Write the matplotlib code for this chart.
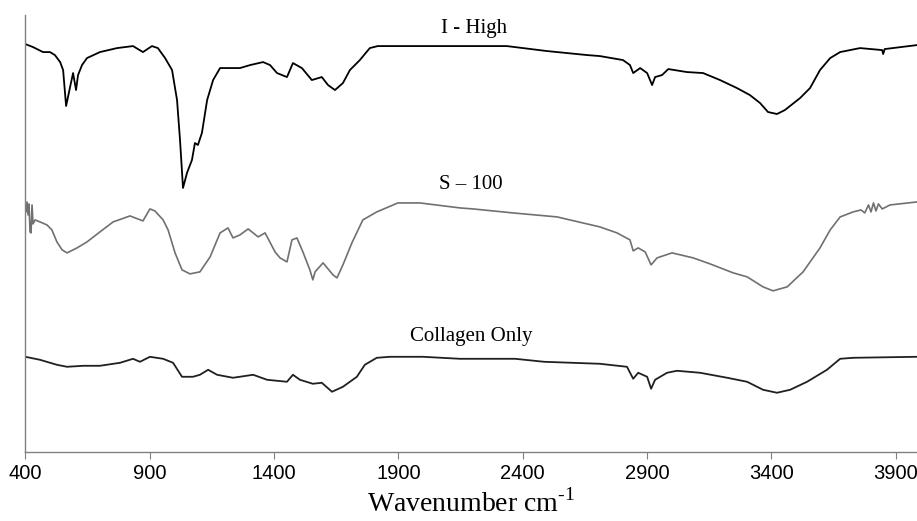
import matplotlib.pyplot as plt

# FTIR spectra, offset transmittance (arbitrary units)
high_wn = [400, 431, 471, 499, 519, 540, 552, 564, 580, 592, 604, 612, 628, 648, 700,
           769, 833, 873, 909, 933, 962, 990, 1010, 1022, 1034, 1050, 1070, 1082, 1094,
           1110, 1131, 1155, 1183, 1223, 1263, 1304, 1356, 1384, 1412, 1452, 1476, 1512,
           1552, 1592, 1617, 1645, 1677, 1705, 1745, 1785, 1817, 2067, 2336, 2498, 2659,
           2710, 2803, 2831, 2844, 2872, 2900, 2920, 2932, 2960, 2985, 3060, 3125, 3193,
           3261, 3313, 3354, 3386, 3422, 3454, 3515, 3555, 3595, 3636, 3676, 3756, 3845,
           3849, 3855, 3985]
high_t = [408, 405, 400, 400, 397, 390, 382, 346, 365, 379, 362, 377, 387, 394, 400,
          404, 406, 400, 406, 404, 394, 382, 352, 312, 264, 279, 292, 309, 307,
          319, 352, 372, 384, 384, 384, 387, 390, 387, 379, 375, 389, 384,
          372, 375, 367, 362, 369, 382, 392, 404, 406, 406, 406, 401, 397,
          396, 392, 387, 379, 384, 379, 367, 375, 377, 383, 380, 379, 372,
          364, 357, 349, 340, 338, 342, 354, 364, 382, 394, 400, 404, 402,
          398, 403, 407]

s100_wn = [400, 403, 407, 411, 415, 419, 423, 427, 431, 439, 459, 487, 507, 527, 548,
           568, 608, 648, 700, 753, 821, 873, 901, 921, 954, 974, 1002, 1030, 1062, 1102,
           1143, 1183, 1215, 1235, 1263, 1296, 1336, 1364, 1404, 1424, 1452, 1472, 1492,
           1516, 1544, 1556, 1565, 1597, 1637, 1653, 1677, 1713, 1757, 1813, 1898, 1986,
           2148, 2200, 2361, 2538, 2710, 2779, 2831, 2844, 2864, 2892, 2916, 2940, 3000,
           3085, 3153, 3246, 3302, 3366, 3406, 3463, 3527, 3595, 3636, 3676, 3728, 3760,
           3775, 3790, 3800, 3810, 3820, 3830, 3845, 3877, 3985]
s100_t = [240, 240, 250, 237, 248, 220, 219, 247, 228, 232, 230, 227, 222, 210, 202,
          199, 204, 210, 220, 230, 236, 231, 243, 241, 232, 222, 199, 182, 178, 180,
          195, 219, 224, 214, 217, 223, 215, 219, 200, 194, 190, 212, 214,
          200, 182, 172, 180, 189, 177, 174, 187, 209, 232, 240, 249, 249,
          244, 243, 239, 235, 225, 219, 212, 201, 204, 200, 187, 194, 199,
          194, 188, 179, 175, 165, 161, 165, 180, 204, 222, 235, 240, 242,
          239, 247, 240, 249, 241, 248, 243, 247, 250]

coll_wn = [400, 459, 527, 568, 633, 700, 781, 833, 861, 901, 954, 994, 1030, 1074,
           1102, 1135, 1171, 1235, 1316, 1372, 1452, 1476, 1504, 1556, 1592, 1633,
           1677, 1733, 1765, 1813, 1866, 1998, 2148, 2369, 2486, 2710, 2819, 2844, 2864,
           2900, 2916, 2932, 2980, 3020, 3113, 3222, 3302, 3366, 3422, 3475, 3543, 3623,
           3676, 3728, 3985]
coll_t = [95, 92, 87, 85, 86, 86, 89, 93, 90, 95, 93, 89, 75, 75,
          77, 82, 77, 74, 77, 72, 70, 77, 72, 68, 69, 60,
          65, 75, 87, 94, 95, 95, 93, 93, 90, 88, 85, 73, 79,
          75, 63, 72, 79, 81, 79, 74, 70, 62, 59, 62, 70, 82,
          93, 94, 95]

labels = ["I - High", "S \u2013 100", "Collagen Only"]
label_x = [2204, 2192, 2192]
label_y = [424, 267, 115]

plt.rcParams['mathtext.fontset'] = 'custom'
plt.rcParams['mathtext.rm'] = 'Liberation Serif'

fig = plt.figure(figsize=(9.17, 5.21), dpi=100)
ax = fig.add_axes([0.0276, 0.133, 0.9724, 0.838])

ax.plot(high_wn, high_t, color="black", lw=1.3)
ax.plot(s100_wn, s100_t, color="#707070", lw=1.2)
ax.plot(coll_wn, coll_t, color="#202020", lw=1.3)

for txt, x, y in zip(labels, label_x, label_y):
    ax.text(x, y, txt, ha="center", va="center", fontsize=15, family="Liberation Serif")

ax.set_xlim(400, 3985)
ax.set_ylim(0, 437)
ax.set_xticks(range(400, 4000, 500))
ax.set_yticks([])
ax.tick_params(axis="x", direction="out", length=5, color="#808080", labelsize=14.5, pad=4)
for lbl in ax.get_xticklabels():
    lbl.set_family("Liberation Sans")
for side in ["top", "right"]:
    ax.spines[side].set_visible(False)
for side in ["left", "bottom"]:
    ax.spines[side].set_color("#808080")
    ax.spines[side].set_linewidth(1.0)

ax.set_xlabel("Wavenumber cm$^{\\mathregular{\u2010}1}$", fontsize=20, family="Liberation Serif", labelpad=4)

plt.savefig("out.png", dpi=100)
plt.close(fig)
